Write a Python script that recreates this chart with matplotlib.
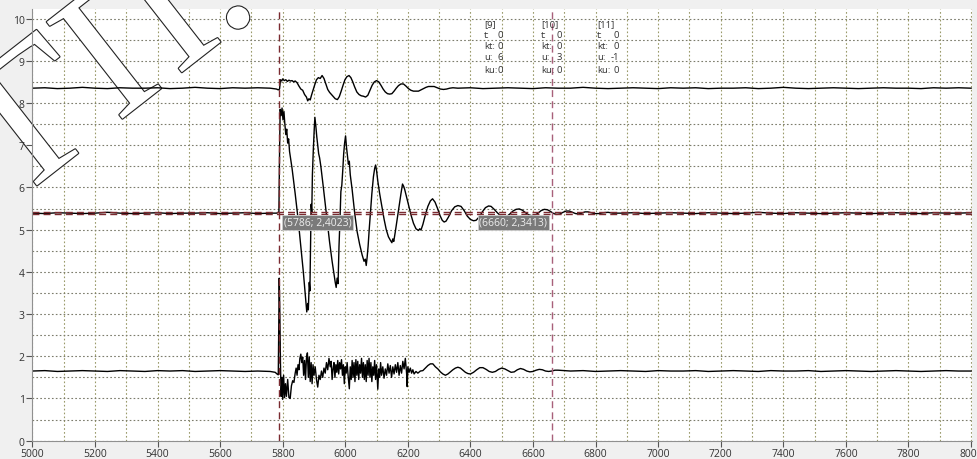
import matplotlib
matplotlib.use("Agg")
import matplotlib.pyplot as plt
import matplotlib.patheffects as pe

# flat parts: sample every 40 units
top_pre = [8.35, 8.36, 8.34, 8.35, 8.37, 8.35, 8.34, 8.36, 8.35, 8.35,
           8.36, 8.34, 8.35, 8.37, 8.35, 8.34, 8.36, 8.35, 8.36, 8.35]
mid_pre = [5.39, 5.38, 5.40, 5.39, 5.38, 5.39, 5.41, 5.39, 5.38, 5.39,
           5.40, 5.38, 5.39, 5.39, 5.40, 5.38, 5.39, 5.40, 5.38, 5.39]
bot_pre = [1.65, 1.66, 1.64, 1.65, 1.66, 1.65, 1.64, 1.66, 1.65, 1.64,
           1.66, 1.65, 1.66, 1.64, 1.65, 1.66, 1.65, 1.64, 1.65, 1.64]

top_post = [8.35, 8.36, 8.34, 8.35, 8.36, 8.35, 8.34, 8.36, 8.35, 8.35,
            8.37, 8.35, 8.34, 8.35, 8.36, 8.35, 8.34, 8.36, 8.35, 8.36,
            8.34, 8.35, 8.35, 8.36, 8.34, 8.35, 8.37, 8.35, 8.34, 8.35,
            8.36, 8.35, 8.34, 8.35, 8.36, 8.35, 8.35, 8.34, 8.36, 8.35,
            8.36, 8.35]
mid_post = [5.39, 5.40, 5.38, 5.39, 5.40, 5.39, 5.38, 5.40, 5.39, 5.38,
            5.39, 5.41, 5.39, 5.38, 5.40, 5.39, 5.38, 5.39, 5.40, 5.39,
            5.38, 5.39, 5.40, 5.39, 5.38, 5.40, 5.39, 5.39, 5.40]
bot_post = [1.65, 1.66, 1.64, 1.65, 1.66, 1.65, 1.64, 1.66, 1.65, 1.65,
            1.66, 1.64, 1.65, 1.66, 1.65, 1.64, 1.66, 1.65, 1.65, 1.66,
            1.64, 1.65, 1.66, 1.65, 1.64, 1.65, 1.66, 1.65, 1.64, 1.65,
            1.66, 1.65, 1.65]

# transient parts (x, y)
top_burst = [(5780, 8.33), (5786, 8.31), (5790, 8.33), (5793, 8.55), (5797, 8.52),
             (5800, 8.57), (5805, 8.53), (5810, 8.55), (5815, 8.51), (5820, 8.54),
             (5825, 8.52), (5830, 8.53), (5835, 8.50), (5840, 8.52), (5846, 8.48),
             (5852, 8.40), (5858, 8.33), (5864, 8.30), (5870, 8.20), (5876, 8.14),
             (5880, 8.05), (5884, 8.10), (5888, 8.07), (5892, 8.18), (5897, 8.30),
             (5902, 8.42), (5908, 8.55), (5914, 8.60), (5920, 8.58), (5926, 8.65),
             (5932, 8.58), (5938, 8.45), (5944, 8.32), (5950, 8.25), (5956, 8.20),
             (5962, 8.15), (5968, 8.10), (5975, 8.08), (5981, 8.15), (5987, 8.28),
             (5993, 8.42), (5999, 8.55), (6005, 8.62), (6012, 8.65), (6018, 8.60),
             (6024, 8.50), (6030, 8.38), (6037, 8.26), (6044, 8.20), (6051, 8.17),
             (6058, 8.16), (6065, 8.14), (6072, 8.18), (6079, 8.30), (6086, 8.42),
             (6093, 8.50), (6100, 8.53), (6107, 8.50), (6114, 8.42), (6121, 8.33),
             (6128, 8.26), (6135, 8.22), (6142, 8.21), (6149, 8.22), (6156, 8.28),
             (6163, 8.35), (6170, 8.41), (6178, 8.45), (6186, 8.45), (6194, 8.40),
             (6202, 8.34), (6210, 8.30), (6218, 8.28), (6226, 8.28), (6234, 8.28),
             (6242, 8.31), (6250, 8.34), (6258, 8.37), (6266, 8.39), (6274, 8.39),
             (6284, 8.39), (6294, 8.36), (6304, 8.33), (6314, 8.32), (6324, 8.33),
             (6334, 8.35), (6344, 8.36)]

mid_burst = [(5780, 5.39), (5784, 5.40), (5788, 5.42), (5790, 6.80), (5792, 7.85),
             (5795, 7.70), (5798, 7.88), (5801, 7.60), (5804, 7.80), (5807, 7.50),
             (5810, 7.25), (5813, 7.38), (5816, 7.05), (5819, 7.15), (5822, 6.85),
             (5830, 6.45), (5840, 5.85), (5850, 5.20), (5860, 4.45), (5866, 4.00),
             (5870, 3.65), (5874, 3.30), (5877, 3.05), (5880, 3.25), (5882, 3.10),
             (5885, 3.75), (5887, 3.55), (5889, 4.60), (5891, 5.60), (5893, 5.40),
             (5895, 6.30), (5898, 6.90), (5901, 7.40), (5903, 7.66), (5906, 7.45),
             (5909, 7.20), (5912, 7.00), (5915, 6.80), (5918, 6.70), (5922, 6.50),
             (5930, 6.00), (5940, 5.35), (5950, 4.70), (5958, 4.25), (5964, 3.95),
             (5968, 3.75), (5971, 3.63), (5974, 3.85), (5977, 3.72), (5980, 4.60),
             (5983, 5.20), (5986, 5.90), (5989, 6.05), (5992, 6.40), (5995, 6.80),
             (5998, 7.05), (6001, 7.22), (6004, 6.95), (6007, 6.75), (6010, 6.55),
             (6013, 6.62), (6016, 6.30), (6022, 5.95), (6030, 5.40), (6038, 4.95),
             (6046, 4.65), (6054, 4.40), (6060, 4.25), (6064, 4.30), (6067, 4.15),
             (6070, 4.35), (6073, 4.60), (6077, 5.05), (6081, 5.45), (6085, 5.85),
             (6090, 6.25), (6094, 6.45), (6097, 6.53), (6100, 6.40), (6104, 6.15),
             (6110, 5.85), (6117, 5.55), (6124, 5.25), (6131, 5.00), (6138, 4.83),
             (6144, 4.75), (6149, 4.69), (6152, 4.78), (6155, 4.72), (6160, 4.95),
             (6166, 5.25), (6172, 5.55), (6178, 5.85), (6183, 6.08), (6187, 6.02),
             (6190, 5.95), (6195, 5.80), (6202, 5.60), (6210, 5.35), (6218, 5.15),
             (6226, 5.02), (6234, 4.98), (6238, 5.02), (6242, 4.99), (6248, 5.12),
             (6256, 5.35), (6264, 5.55), (6272, 5.68), (6279, 5.73), (6287, 5.65),
             (6295, 5.50), (6303, 5.33), (6310, 5.22), (6316, 5.18), (6322, 5.20),
             (6330, 5.30), (6340, 5.45), (6350, 5.54), (6360, 5.57), (6370, 5.55),
             (6380, 5.45), (6390, 5.32), (6400, 5.24), (6410, 5.21), (6418, 5.22),
             (6428, 5.30), (6438, 5.42), (6448, 5.52), (6458, 5.56), (6466, 5.55),
             (6476, 5.48), (6486, 5.40), (6496, 5.33), (6506, 5.30), (6516, 5.31),
             (6526, 5.37), (6536, 5.44), (6546, 5.48), (6556, 5.49), (6566, 5.46),
             (6576, 5.40), (6586, 5.35), (6596, 5.33), (6606, 5.34), (6616, 5.39),
             (6626, 5.45), (6636, 5.48), (6646, 5.47), (6656, 5.43), (6666, 5.38),
             (6676, 5.36), (6686, 5.37), (6696, 5.41), (6706, 5.44), (6716, 5.44),
             (6726, 5.41), (6736, 5.38), (6746, 5.37), (6756, 5.39), (6766, 5.42),
             (6776, 5.42), (6786, 5.40), (6796, 5.38), (6810, 5.38), (6825, 5.40),
             (6840, 5.41), (6855, 5.39)]

bot_burst = [(5776, 1.62), (5782, 1.58), (5786, 1.56), (5789, 3.85), (5791, 3.00),
             (5793, 1.80), (5795, 1.05), (5798, 1.50), (5800, 0.98), (5803, 1.55),
             (5806, 1.02), (5809, 1.35), (5812, 1.05), (5816, 1.45), (5820, 1.02),
             (5824, 1.00), (5828, 1.30), (5832, 1.42), (5836, 1.38), (5840, 1.60),
             (5843, 1.72), (5846, 1.55), (5849, 1.80), (5852, 1.68), (5855, 1.95),
             (5858, 2.05), (5861, 1.85), (5864, 1.98), (5867, 1.55), (5870, 1.90),
             (5873, 1.45), (5876, 1.95), (5879, 2.08), (5882, 1.50), (5885, 1.98),
             (5888, 1.40), (5891, 1.85), (5894, 1.35), (5897, 1.80), (5900, 1.55),
             (5904, 1.75), (5908, 1.45), (5912, 1.27), (5916, 1.55), (5920, 1.45),
             (5924, 1.65), (5928, 1.50), (5932, 1.72), (5936, 1.60), (5940, 1.85),
             (5944, 1.68), (5948, 1.95), (5952, 1.75), (5955, 1.88), (5958, 1.45),
             (5961, 1.70), (5964, 1.85), (5967, 1.50), (5970, 1.80), (5973, 1.62),
             (5976, 1.90), (5979, 1.58), (5982, 1.85), (5985, 1.70), (5988, 1.92),
             (5991, 1.55), (5994, 1.80), (5997, 1.35), (6000, 1.75), (6003, 1.60),
             (6006, 1.85), (6009, 1.55), (6013, 1.23), (6016, 1.75), (6019, 1.45),
             (6022, 1.90), (6025, 1.50), (6028, 1.85), (6031, 1.40), (6034, 1.92),
             (6037, 1.55), (6040, 1.88), (6043, 1.45), (6046, 1.80), (6049, 1.60),
             (6052, 1.95), (6055, 1.50), (6058, 1.85), (6061, 1.45), (6064, 1.80),
             (6067, 1.40), (6070, 1.90), (6073, 1.55), (6076, 1.95), (6079, 1.50),
             (6082, 1.85), (6085, 1.40), (6088, 1.75), (6091, 1.55), (6094, 1.90),
             (6097, 1.45), (6100, 1.80), (6104, 1.22), (6107, 1.70), (6110, 1.50),
             (6113, 1.85), (6116, 1.55), (6120, 1.75), (6124, 1.48), (6128, 1.70),
             (6132, 1.55), (6136, 1.82), (6140, 1.60), (6144, 1.78), (6148, 1.50),
             (6152, 1.75), (6156, 1.58), (6160, 1.80), (6164, 1.62), (6168, 1.85),
             (6172, 1.55), (6176, 1.78), (6180, 1.60), (6184, 1.88), (6188, 1.70),
             (6192, 1.95), (6196, 1.60), (6198, 1.28), (6200, 1.75), (6204, 1.62),
             (6208, 1.72), (6212, 1.60), (6216, 1.68), (6220, 1.58), (6226, 1.64),
             (6232, 1.60), (6240, 1.65), (6248, 1.66), (6256, 1.72), (6264, 1.78),
             (6272, 1.82), (6280, 1.82), (6288, 1.75), (6296, 1.70), (6304, 1.63),
             (6312, 1.58), (6320, 1.55), (6328, 1.58), (6336, 1.63), (6344, 1.68),
             (6352, 1.72), (6360, 1.74), (6368, 1.72), (6376, 1.67), (6384, 1.62),
             (6392, 1.59), (6400, 1.58), (6410, 1.62), (6420, 1.68), (6430, 1.73),
             (6440, 1.73), (6450, 1.69), (6460, 1.64), (6470, 1.62), (6480, 1.64),
             (6490, 1.69), (6500, 1.72), (6510, 1.70), (6520, 1.66), (6530, 1.62),
             (6540, 1.63), (6550, 1.68), (6560, 1.71), (6570, 1.69), (6580, 1.65),
             (6590, 1.63), (6600, 1.64), (6610, 1.67), (6620, 1.69), (6630, 1.68),
             (6640, 1.65), (6650, 1.64), (6660, 1.65), (6670, 1.67), (6680, 1.67)]

# cursors
cursor_x = [5788, 6660]
cursor_y = [5.42, 5.36]
cursor_labels = ["(5786; 2,4023)", "(6660; 2,3413)"]

# channel info block
chan_ids = ["[9]", "[10]", "[11]"]
chan_t = [0, 0, 0]
chan_kt = [0, 0, 0]
chan_u = [6, 3, -1]
chan_ku = [0, 0, 0]


def build(pre, pre_x, burst, post, post_x):
    bx = [p[0] for p in burst]
    by = [p[1] for p in burst]
    return list(pre_x) + bx + list(post_x), list(pre) + by + list(post)


top_x, top_y = build(top_pre, range(5000, 5761, 40), top_burst, top_post, range(6360, 8001, 40))
mid_x, mid_y = build(mid_pre, range(5000, 5761, 40), mid_burst, mid_post, range(6880, 8001, 40))
bot_x, bot_y = build(bot_pre, range(5000, 5761, 40), bot_burst, bot_post, range(6720, 8001, 40))

plt.rcParams['font.family'] = ['Open Sans', 'DejaVu Sans']

fig = plt.figure(figsize=(9.77, 4.6), dpi=100)
fig.patch.set_facecolor('#f0f0f0')
pos = [0.0331, 0.0398, 0.9618, 0.9395]
xlim = (5000, 8003)
ylim = (0, 10.237)

# main axes: background, grid, traces
ax = fig.add_axes(pos, zorder=0)
ax.set_facecolor('white')
ax.set_xlim(*xlim)
ax.set_ylim(*ylim)
ax.set_xticks(range(5000, 8001, 100))
ax.set_yticks([i * 0.5 for i in range(21)])
ax.tick_params(length=0, labelleft=False, labelbottom=False)
ax.grid(True, axis='x', color='#9a9a6a', linestyle=(0, (1.5, 2)), linewidth=0.8)
ax.grid(True, axis='y', color='#7c7c6c', linestyle=(0, (1.5, 2)), linewidth=0.8)
ax.set_axisbelow(True)
for s in ax.spines.values():
    s.set_visible(False)

# watermark sits above grid, below traces
ax.text(0.122, 0.86, "ГП.", fontsize=135, rotation=38, family='Liberation Serif',
        color='white', ha='center', va='center', transform=fig.transFigure,
        clip_on=False, zorder=1,
        path_effects=[pe.withStroke(linewidth=1.6, foreground='#222222')])

ax.plot(top_x, top_y, color='black', linewidth=1.0, zorder=2)
ax.plot(mid_x, mid_y, color='black', linewidth=1.0, zorder=2)
ax.plot(bot_x, bot_y, color='black', linewidth=1.0, zorder=2)

# cursor lines
ax.axvline(cursor_x[0], color='#7a2a30', linestyle=(0, (5, 3)), linewidth=1.0, zorder=2)
ax.axvline(cursor_x[1], color='#a8607a', linestyle=(0, (5, 3)), linewidth=1.0, zorder=2)
ax.axhline(cursor_y[0], color='#7a2a30', linestyle=(0, (5, 3)), linewidth=1.0, zorder=2)
ax.axhline(cursor_y[1], color='#7a2a30', linestyle=(0, (5, 3)), linewidth=1.0, zorder=2)

box = dict(boxstyle='square,pad=0.15', facecolor='#7a7a7a', edgecolor='#cfcfcf', linewidth=0.6)
ax.text(cursor_x[0] + 15, 5.3, cursor_labels[0], ha='left', va='top', fontsize=7.5,
        color='#eeeeee', bbox=box, zorder=3)
ax.text(cursor_x[1] - 15, 5.3, cursor_labels[1], ha='right', va='top', fontsize=7.5,
        color='#eeeeee', bbox=box, zorder=3)

# channel info text
col_left = [6444, 6626, 6805]
col_right = [6504, 6693, 6875]
row_y = [9.87, 9.63, 9.35, 9.09, 8.80]
txt = dict(fontsize=6.8, color='#333333', va='center', zorder=3)
for i in range(3):
    ax.text(col_left[i], row_y[0], chan_ids[i], ha='left', **txt)
    for j, (name, vals) in enumerate([('t:', chan_t), ('kt:', chan_kt),
                                       ('u:', chan_u), ('ku:', chan_ku)]):
        ax.text(col_left[i], row_y[j + 1], name, ha='left', **txt)
        ax.text(col_right[i], row_y[j + 1], str(vals[i]), ha='right', **txt)

# overlay axes for ticks and labels (drawn above the watermark)
ax2 = fig.add_axes(pos, zorder=1)
ax2.patch.set_alpha(0)
ax2.set_xlim(*xlim)
ax2.set_ylim(*ylim)
ax2.set_xticks(range(5000, 8001, 200))
ax2.set_yticks(range(0, 11))
ax2.tick_params(axis='both', labelsize=7.5, length=4, width=0.8,
                color='#555555', labelcolor='#333333', pad=1.5)
for side in ['top', 'right']:
    ax2.spines[side].set_visible(False)
for side in ['left', 'bottom']:
    ax2.spines[side].set_color('#909090')
    ax2.spines[side].set_linewidth(0.8)

fig.savefig('out.png', dpi=100, facecolor=fig.get_facecolor())
